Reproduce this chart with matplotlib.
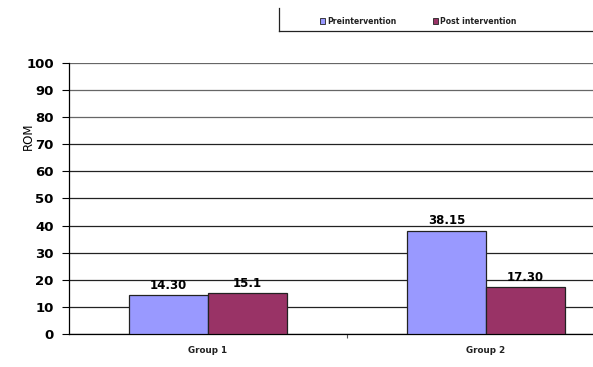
import matplotlib.pyplot as plt
from matplotlib.lines import Line2D
from matplotlib.patches import Rectangle

# ROM before/after intervention for the two groups
groups = ["Group 1", "Group 2"]
pre_values = [14.30, 38.15]
post_values = [15.1, 17.30]
pre_labels = ["14.30", "38.15"]
post_labels = ["15.1", "17.30"]
series_names = ["Preintervention", "Post intervention"]
yticks = list(range(0, 101, 10))

PRE_COLOR = "#9999ff"
POST_COLOR = "#993366"

fig = plt.figure(figsize=(5.93, 3.67), dpi=100)
# plot area runs past the right edge of the figure
ax = fig.add_axes([0.1164, 0.0899, 0.9376, 0.739])

bar_w = 0.284
centers = [0.5, 1.5]
for i, c in enumerate(centers):
    ax.bar(c - bar_w / 2, pre_values[i], bar_w, color=PRE_COLOR,
           edgecolor="#222222", linewidth=0.9, zorder=3)
    ax.bar(c + bar_w / 2, post_values[i], bar_w, color=POST_COLOR,
           edgecolor="#222222", linewidth=0.9, zorder=3)
    ax.text(c - bar_w / 2, pre_values[i] + 1.3, pre_labels[i], ha="center",
            va="bottom", fontsize=8.5, fontweight="bold", zorder=4)
    ax.text(c + bar_w / 2, post_values[i] + 1.3, post_labels[i], ha="center",
            va="bottom", fontsize=8.5, fontweight="bold", zorder=4)

ax.set_xlim(0, 2)
ax.set_ylim(0, 100)
ax.set_yticks(yticks)
ax.set_yticklabels([str(t) for t in yticks], fontsize=9.5, fontweight="bold")
ax.set_xticks([1.0])
ax.set_xticklabels([""])
ax.tick_params(axis="x", length=3, width=0.8, color="#555555")
ax.tick_params(axis="y", length=5, width=0.8, pad=6)
for c, g in zip(centers, groups):
    ax.text(c, -4.5, g, ha="center", va="top", fontsize=6.3,
            fontweight="bold", color="#222222")

ax.yaxis.grid(True, color="#222222", linewidth=0.9, zorder=0)
# upper gridlines render lighter
for line, t in zip(ax.get_ygridlines(), yticks):
    if t >= 80:
        line.set_color("#666666")
for sp in ["top", "right"]:
    ax.spines[sp].set_visible(False)
ax.spines["left"].set_linewidth(0.9)
ax.spines["bottom"].set_linewidth(0.9)

fig.text(28 / 593, 1 - 136 / 367, "ROM", rotation=90, ha="center",
         va="center", fontsize=8.5)

# legend frame: left and bottom edges only
fig.add_artist(Line2D([279 / 593, 279 / 593], [1 - 8 / 367, 1 - 31 / 367],
                      color="#222222", linewidth=0.9))
fig.add_artist(Line2D([279 / 593, 1.0], [1 - 31 / 367, 1 - 31 / 367],
                      color="#222222", linewidth=0.9))
for x_sq, color, name in [(320, PRE_COLOR, series_names[0]),
                          (433, POST_COLOR, series_names[1])]:
    fig.add_artist(Rectangle((x_sq / 593, 1 - 24 / 367), 5.5 / 593, 5.5 / 367,
                             facecolor=color, edgecolor="#222222",
                             linewidth=0.6))
    fig.text((x_sq + 7.5) / 593, 1 - 21 / 367, name, ha="left", va="center",
             fontsize=5.6, fontweight="bold", color="#222222")

fig.savefig("out.png", dpi=100)
